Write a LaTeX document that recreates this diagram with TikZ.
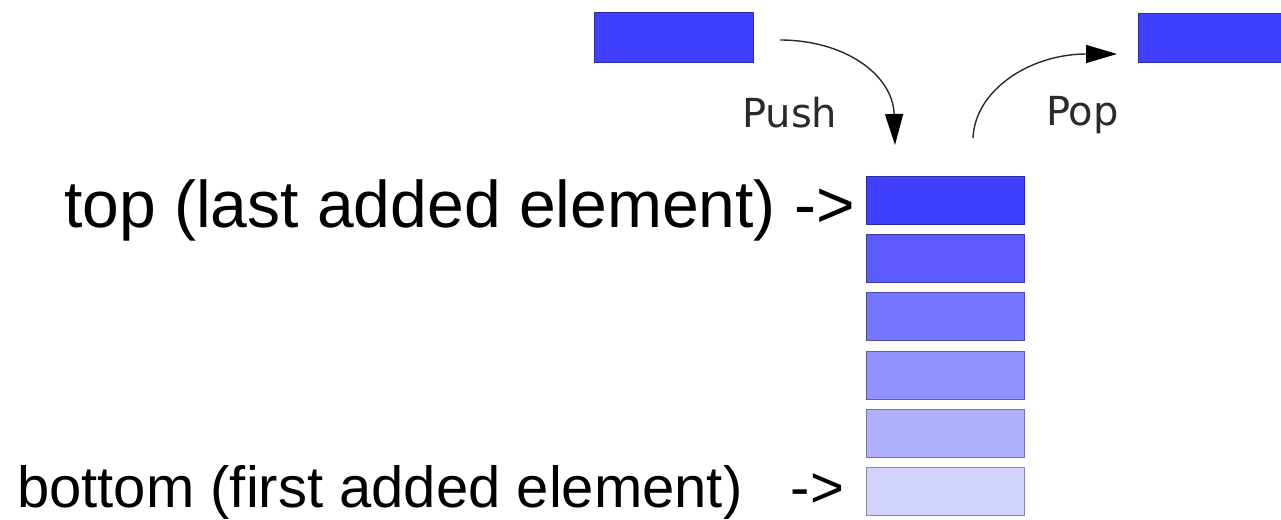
\documentclass[tikz,border=0pt]{standalone}
\usepackage{fontspec}
\setmainfont{Liberation Sans}
\newfontfamily\opfont{DejaVu Sans}
\usetikzlibrary{arrows.meta}
\definecolor{c1}{HTML}{4040FF}
\definecolor{c2}{HTML}{5A5AFF}
\definecolor{c3}{HTML}{7575FF}
\definecolor{c4}{HTML}{9292FF}
\definecolor{c5}{HTML}{B0B0FF}
\definecolor{c6}{HTML}{D2D2FF}
\definecolor{ink}{HTML}{2A2A2A}
\tikzset{
  cell/.style={draw=#1!65!black, fill=#1, line width=1pt, minimum width=158pt,
    minimum height=48pt, inner sep=0pt, anchor=north west},
  oplabel/.style={font=\opfont\fontsize{40}{44}\selectfont, text=ink, inner sep=0pt, anchor=base west},
  bigtext/.style={font=\fontsize{#1}{#1}\selectfont, inner sep=0pt, anchor=base west},
  opflow/.style={draw=ink, line width=1.4pt, -{Triangle[length=31pt,width=18pt,color=black]}}
}
\begin{document}
\begin{tikzpicture}[x=1pt,y=-1pt]
  \useasboundingbox (0,0) rectangle (1281,519);
  \clip (0,0) rectangle (1281,519);
  \fill[white] (0,0) rectangle (1281,519);

  % elements waiting outside the stack
  \node[cell=c1, minimum width=159pt, minimum height=50pt] (incoming) at (594,12) {};
  \node[cell=c1, minimum width=160pt, minimum height=49pt] (outgoing) at (1138,13) {};

  % the stack, top to bottom
  \node[cell=c1] (s1) at (866,176) {};
  \node[cell=c2] (s2) at (866,234.2) {};
  \node[cell=c3] (s3) at (866,292.4) {};
  \node[cell=c4] (s4) at (866,350.6) {};
  \node[cell=c5] (s5) at (866,408.8) {};
  \node[cell=c6] (s6) at (866,467) {};

  % operation labels
  \node[oplabel] (pushlbl) at (742,127) {Push};
  \node[oplabel] (poplbl) at (1046,125) {Pop};

  % push and pop arrows
  \coordinate (pushfrom) at (780,40);
  \coordinate (pushto) at (895,145);
  \coordinate (popfrom) at (973,138);
  \coordinate (popto) at (1117,54);
  \draw[opflow] (pushfrom) .. controls (845,40) and (893,75) .. (pushto);
  \draw[opflow] (popfrom) .. controls (975,90) and (1030,54) .. (popto);

  % annotations
  \node[bigtext=66] (toplbl) at (64,227) {top (last added element) ->};
  \node[bigtext=58] (botlbl) at (17,507) {bottom (first added element)\ \ \ ->};
\end{tikzpicture}
\end{document}
